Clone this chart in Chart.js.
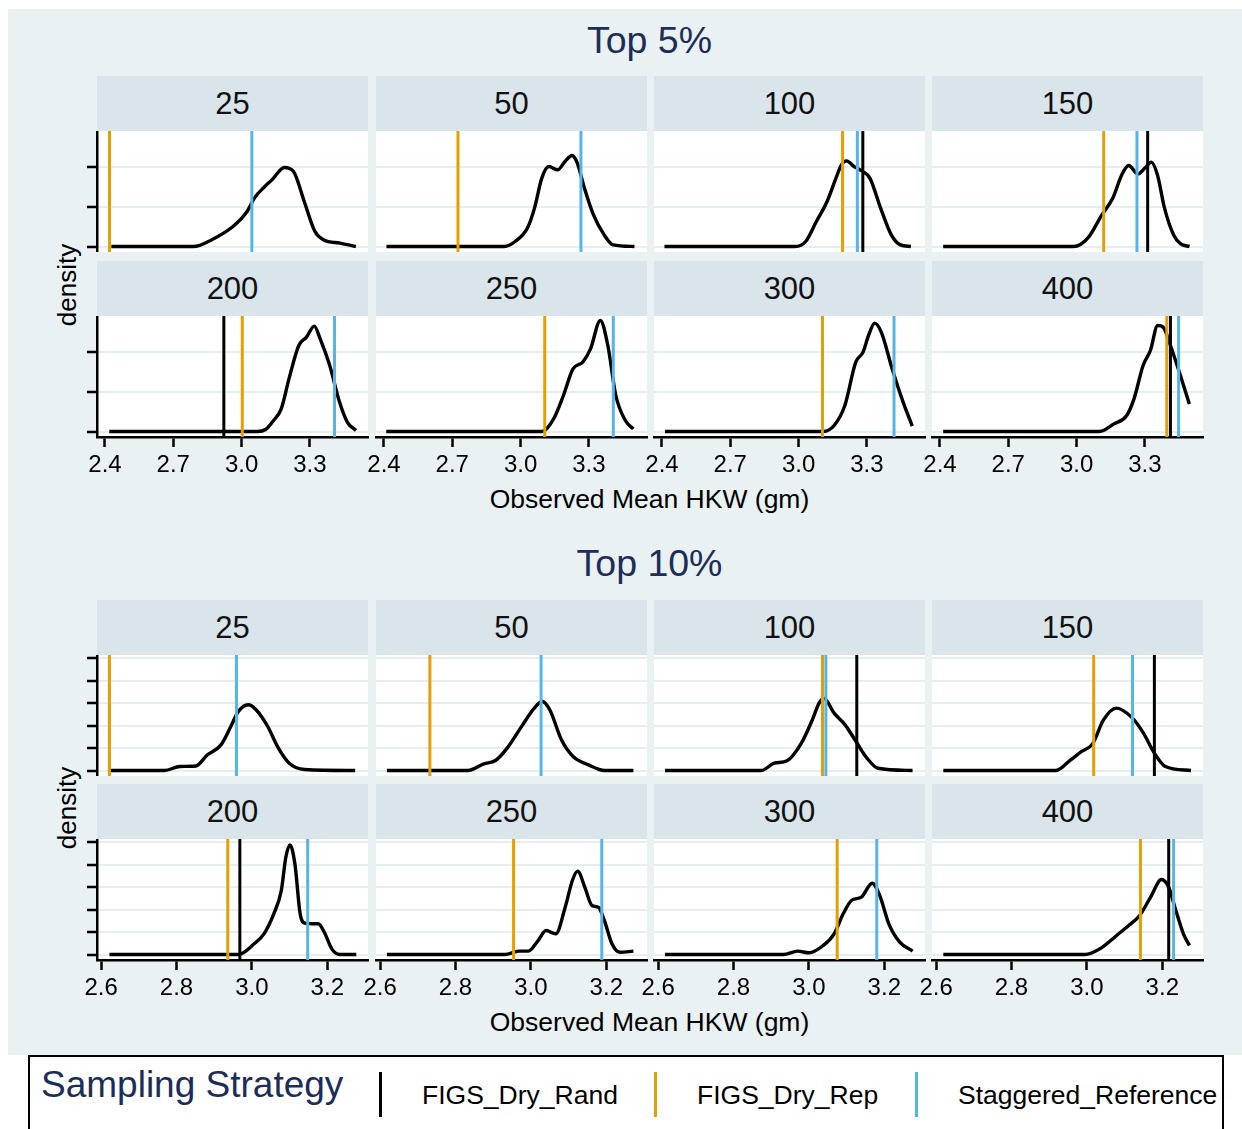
<!DOCTYPE html>
<html>
<head>
<meta charset="utf-8">
<title>Observed Mean HKW density by sample size</title>
<script src="https://cdn.jsdelivr.net/npm/chart.js@4.4.1/dist/chart.umd.min.js"></script>
<style>
  body {
    margin: 0;
    width: 1242px;
    height: 1129px;
    overflow: hidden;
    position: relative;
    background: #fff;
    font-family: "Liberation Sans", Arial, sans-serif;
  }
  .abs { position: absolute; }
  #bg { left: 8px; top: 9px; width: 1234px; height: 1046px; background: #e9f1f3; }
  .strip {
    background: #d9e5eb;
    color: #111;
    font-size: 31px;
    text-align: center;
  }
  .panel { background: #fff; }
  .title { color: #1c2d5a; font-size: 37.5px; text-align: center; }
  .axtitle { color: #000; font-size: 26.5px; text-align: center; }
  .ytitle { color: #000; font-size: 26px; text-align: center; transform: rotate(-90deg); }
  #legend {
    left: 28px; top: 1055px; width: 1196px; height: 100px;
    box-sizing: border-box; border: 2px solid #000; background: #fff;
  }
  .legtitle { color: #1c2d5a; font-size: 37px; }
  .legkey { width: 3px; height: 45px; }
  .leglabel { color: #000; font-size: 26.5px; }
</style>
</head>
<body>
<div id="bg" class="abs"></div>
<div id="legend" class="abs"></div>

<script>
// facet labels (sample size)
const sampleSizes = ["25", "50", "100", "150", "200", "250", "300", "400"];

// reference lines per facet, one array per strategy (null = no line)
const top5Rand  = [null, null, 3.282, 3.312, 2.922, null, null, 3.412];
const top5Rep   = [2.420, 2.725, 3.193, 3.119, 3.003, 3.106, 3.105, 3.396];
const top5Stag  = [3.045, 3.265, 3.258, 3.265, 3.408, 3.407, 3.419, 3.448];
const top10Rand = [null, null, 3.127, 3.179, 2.968, null, null, 3.217];
const top10Rep  = [2.622, 2.732, 3.036, 3.018, 2.936, 2.954, 3.075, 3.142];
const top10Stag = [2.959, 3.027, 3.045, 3.121, 3.148, 3.188, 3.180, 3.230];

// density curves, [hkw, density]
const top5_25  = [[2.428,0],[2.789,0],[2.867,0.33],[2.962,1.0],[3.024,1.75],[3.056,2.42],[3.102,3.0],[3.133,3.33],[3.188,3.95],[3.228,3.75],[3.275,2.25],[3.322,0.75],[3.361,0.33],[3.432,0.17],[3.502,0]];
const top5_50  = [[2.411,0],[2.928,0],[2.976,0.25],[3.030,0.92],[3.061,1.92],[3.093,3.42],[3.124,4.0],[3.163,3.83],[3.195,4.25],[3.226,4.55],[3.249,4.17],[3.280,2.92],[3.320,1.58],[3.367,0.58],[3.406,0.08],[3.500,0]];
const top5_100 = [[2.411,0],[2.984,0],[3.031,0.25],[3.078,1.25],[3.125,2.25],[3.164,3.42],[3.188,4.08],[3.211,4.28],[3.243,4.0],[3.282,3.75],[3.313,3.42],[3.360,1.92],[3.407,0.58],[3.447,0.08],[3.493,0]];
const top5_150 = [[2.414,0],[2.987,0],[3.049,0.42],[3.111,1.58],[3.159,2.42],[3.198,3.58],[3.229,4.05],[3.269,3.62],[3.300,3.92],[3.328,4.22],[3.355,3.58],[3.386,1.92],[3.426,0.58],[3.457,0.13],[3.496,0]];
const top5_200 = [[2.419,0],[3.071,0],[3.105,0.1],[3.140,0.55],[3.174,1.13],[3.208,2.63],[3.251,4.3],[3.285,4.72],[3.319,5.27],[3.345,4.63],[3.387,3.3],[3.430,1.47],[3.464,0.47],[3.502,0.05]];
const top5_250 = [[2.410,0],[3.094,0],[3.145,0.63],[3.188,1.8],[3.230,3.13],[3.273,3.47],[3.307,4.13],[3.350,5.55],[3.383,4.3],[3.418,1.8],[3.460,0.55],[3.495,0.13]];
const top5_300 = [[2.413,0],[3.108,0],[3.156,0.3],[3.203,1.3],[3.251,3.47],[3.283,3.97],[3.307,4.8],[3.334,5.42],[3.363,4.97],[3.411,3.13],[3.459,1.47],[3.499,0.27]];
const top5_400 = [[2.414,0],[3.100,0],[3.164,0.38],[3.220,0.8],[3.252,1.63],[3.292,3.3],[3.324,4.05],[3.356,5.3],[3.380,5.22],[3.412,4.3],[3.451,2.97],[3.495,1.38]];

const top10_25  = [[2.624,0],[2.768,0],[2.809,0.36],[2.851,0.4],[2.882,1.4],[2.918,2.28],[2.944,3.91],[2.964,5.24],[2.990,5.84],[3.011,5.4],[3.042,3.91],[3.068,2.13],[3.099,0.65],[3.140,0.09],[3.274,0]];
const top10_50  = [[2.618,0],[2.833,0],[2.875,0.59],[2.906,0.89],[2.937,1.99],[2.978,4.06],[3.009,5.55],[3.030,6.13],[3.050,5.4],[3.081,2.73],[3.112,1.24],[3.153,0.5],[3.195,0],[3.272,0]];
const top10_100 = [[2.618,0],[2.874,0],[2.908,0.65],[2.942,0.86],[2.980,2.43],[3.009,4.5],[3.027,6.0],[3.040,6.4],[3.067,5.1],[3.096,4.06],[3.125,2.58],[3.154,1.1],[3.183,0.2],[3.275,0]];
const top10_150 = [[2.619,0],[2.918,0],[2.957,0.95],[2.986,1.69],[3.015,2.37],[3.044,4.5],[3.078,5.55],[3.121,4.66],[3.150,3.32],[3.179,1.55],[3.208,0.36],[3.276,0]];
const top10_200 = [[2.622,0],[2.964,0],[3.006,0.95],[3.032,1.84],[3.058,3.62],[3.078,5.69],[3.090,8.65],[3.101,9.75],[3.114,8.06],[3.128,3.62],[3.140,2.79],[3.161,2.73],[3.176,2.73],[3.192,1.98],[3.212,0.5],[3.233,0],[3.277,0]];
const top10_250 = [[2.618,0],[2.931,0],[2.968,0.3],[2.993,0.3],[3.019,1.24],[3.040,2.13],[3.066,1.84],[3.091,4.2],[3.110,6.58],[3.124,7.41],[3.143,5.98],[3.162,4.36],[3.179,4.2],[3.195,3.02],[3.215,0.95],[3.236,0.2],[3.272,0.3]];
const top10_300 = [[2.618,0],[2.932,0],[2.970,0.3],[3.000,0.15],[3.038,0.8],[3.067,1.84],[3.091,3.62],[3.113,4.8],[3.139,5.1],[3.168,6.34],[3.188,5.24],[3.212,2.73],[3.241,1.1],[3.275,0.3]];
const top10_400 = [[2.619,0],[2.995,0],[3.034,0.5],[3.082,1.78],[3.111,2.58],[3.140,3.47],[3.169,5.1],[3.198,6.67],[3.217,5.98],[3.236,3.91],[3.256,1.84],[3.272,0.8]];

const top5Curves  = [top5_25, top5_50, top5_100, top5_150, top5_200, top5_250, top5_300, top5_400];
const top10Curves = [top10_25, top10_50, top10_100, top10_150, top10_200, top10_250, top10_300, top10_400];

const strategies = ["FIGS_Dry_Rand", "FIGS_Dry_Rep", "Staggered_Reference"];
const COLORS = { rand: "#000000", rep: "#E69F00", stag: "#56B4E9" };
const GRID = "#e4edf0";
const FONT = '"Liberation Sans", Arial, sans-serif';

// layout of the facet grid
const COL_LEFT = [97, 376, 654, 932];
const PANEL_W = 271, PANEL_H = 121;
const STRIP_H = 55;
const PAD = 24;          // room for overflowing tick labels
const Y_AXIS_W = 12;
const X_AXIS_H = 46;

const groups = [
  { title: "Top 5%", curves: top5Curves, rand: top5Rand, rep: top5Rep, stag: top5Stag,
    xMin: 2.365, xMax: 3.555, xStep: 0.3, yMin: -0.275, yMax: 5.775, yStep: 2,
    titleY: 40, rowTops: [131, 316], axisTitleY: 499, yTitleY: 285 },
  { title: "Top 10%", curves: top10Curves, rand: top10Rand, rep: top10Rep, stag: top10Stag,
    xMin: 2.589, xMax: 3.308, xStep: 0.2, yMin: -0.489, yMax: 10.27, yStep: 2,
    titleY: 563, rowTops: [655, 839], axisTitleY: 1022, yTitleY: 808 }
];

Chart.defaults.font.family = FONT;

function box(cls, left, top, w, h, text) {
  const d = document.createElement("div");
  d.className = "abs " + cls;
  d.style.left = left + "px";
  d.style.top = top + "px";
  d.style.width = w + "px";
  d.style.height = h + "px";
  if (text != null) {
    d.textContent = text;
    d.style.lineHeight = h + "px";
  }
  document.body.appendChild(d);
  return d;
}

function vline(v, color, g) {
  return {
    data: [{ x: v, y: g.yMin }, { x: v, y: g.yMax }],
    borderColor: color,
    borderWidth: 3,
    pointRadius: 0,
    tension: 0,
  };
}

function drawPanel(g, i) {
  const row = Math.floor(i / 4), col = i % 4;
  const L = COL_LEFT[col], T = g.rowTops[row];
  box("strip", L, T - STRIP_H, PANEL_W, STRIP_H, sampleSizes[i]);
  box("panel", L, T, PANEL_W, PANEL_H);

  const yW = col === 0 ? Y_AXIS_W : 0;
  const xH = row === 1 ? X_AXIS_H : 0;
  const canvas = document.createElement("canvas");
  canvas.className = "abs";
  canvas.width = PANEL_W + 2 * PAD + yW;
  canvas.height = PANEL_H + xH;
  canvas.style.left = (L - PAD - yW) + "px";
  canvas.style.top = T + "px";
  document.body.appendChild(canvas);

  const datasets = [];
  if (g.stag[i] != null) datasets.push(vline(g.stag[i], COLORS.stag, g));
  if (g.rep[i] != null) datasets.push(vline(g.rep[i], COLORS.rep, g));
  if (g.rand[i] != null) datasets.push(vline(g.rand[i], COLORS.rand, g));
  datasets.push({
    data: g.curves[i].map(([x, y]) => ({ x, y })),
    borderColor: "#000",
    borderWidth: 3.4,
    pointRadius: 0,
    cubicInterpolationMode: "monotone",
  });

  new Chart(canvas, {
    type: "line",
    data: { datasets },
    options: {
      responsive: false,
      animation: false,
      events: [],
      layout: { padding: { left: PAD, right: PAD, top: 0, bottom: 0 } },
      plugins: { legend: { display: false }, tooltip: { enabled: false } },
      scales: {
        x: {
          type: "linear",
          min: g.xMin,
          max: g.xMax,
          display: row === 1,
          afterFit: (s) => { s.height = xH; },
          grid: { drawOnChartArea: false, drawTicks: true, tickLength: 10, tickColor: "#000", tickWidth: 2.5 },
          border: { display: true, color: "#000", width: 2.5 },
          ticks: {
            stepSize: g.xStep,
            includeBounds: false,
            autoSkip: false,
            maxRotation: 0,
            padding: 4,
            color: "#000",
            font: { size: 24 },
            callback: (v) => v.toFixed(1),
          },
        },
        y: {
          type: "linear",
          min: g.yMin,
          max: g.yMax,
          afterFit: (s) => { s.width = yW; },
          grid: { color: GRID, lineWidth: 2, drawTicks: col === 0, tickLength: 10, tickColor: "#000", tickWidth: 2.5 },
          border: { display: col === 0, color: "#000", width: 2.5 },
          ticks: { display: false, stepSize: g.yStep, includeBounds: false },
        },
      },
    },
  });
}

groups.forEach((g) => {
  box("title", COL_LEFT[0], g.titleY - 25, 1105, 50, g.title);
  box("axtitle", COL_LEFT[0], g.axisTitleY - 16, 1105, 32, "Observed Mean HKW (gm)");
  box("ytitle", 67 - 60, g.yTitleY - 16, 120, 32, "density");
  for (let i = 0; i < sampleSizes.length; i++) drawPanel(g, i);
});

// legend
box("legtitle", 41, 1064, 320, 42, "Sampling Strategy");
const keyX = [379, 654, 915];
const labelX = [422, 697, 958];
const keyColors = [COLORS.rand, COLORS.rep, COLORS.stag];
strategies.forEach((s, k) => {
  box("legkey", keyX[k], 1072, 3, 45).style.background = keyColors[k];
  box("leglabel", labelX[k], 1079, 270, 32, s);
});
</script>
</body>
</html>
